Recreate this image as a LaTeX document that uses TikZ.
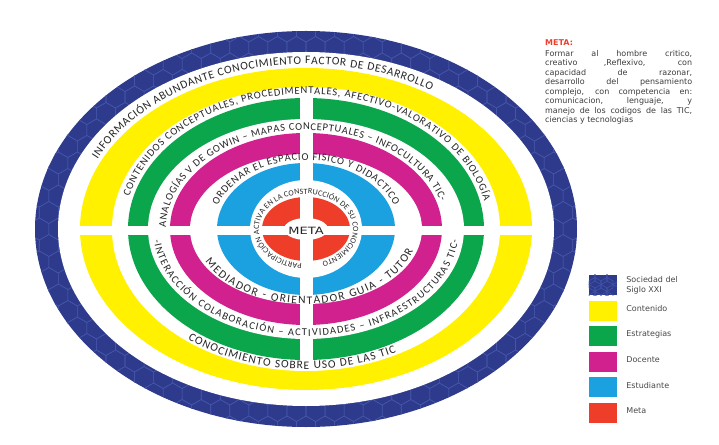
\documentclass[tikz,border=0pt]{standalone}
\usepackage{fontspec}
\setmainfont{DejaVu Sans}
\newfontfamily\ringfam{Carlito}
\usetikzlibrary{positioning}
\usetikzlibrary{decorations.text}

\definecolor{society}{HTML}{2E3A8C}
\definecolor{societyhex}{HTML}{4454A6}
\definecolor{content}{HTML}{FFF100}
\definecolor{strategy}{HTML}{0BA64B}
\definecolor{teacher}{HTML}{D0218E}
\definecolor{student}{HTML}{1BA0E0}
\definecolor{goalred}{HTML}{EE3E2A}
\definecolor{ink}{HTML}{262626}

\newcommand\ringL{\ringfam\fontsize{11.5}{13}\selectfont}
\newcommand\ringM{\ringfam\fontsize{10.5}{12}\selectfont}
\newcommand\ringS{\ringfam\fontsize{11.5}{13}\selectfont}
\newcommand\ringXS{\ringfam\fontsize{8}{9}\selectfont}

\tikzset{
  ringtext/.style={decorate, decoration={text along path, text align={fit to path}, text color=ink, text={#1}}},
  hexline/.style={societyhex, line width=0.6pt},
  keybox/.style={minimum width=28pt, minimum height=20pt, inner sep=0pt},
  keylabel/.style={font=\fontsize{8}{10}\selectfont, text=ink!85, align=left, inner sep=0pt, anchor=west},
}

\begin{document}
\begin{tikzpicture}[x=1pt,y=1pt]
    \useasboundingbox (-306,-215) rectangle (413,229);

    % Sociedad del Siglo XXI
    \fill[society] (0,0) ellipse[x radius=271pt, y radius=198pt];
    \begin{scope}
        \clip (0,0) ellipse[x radius=271pt, y radius=198pt];
        \foreach \j in {-7,...,7}
            \foreach \i in {-15,...,15} {
                \draw[hexline] ({\i*19.05+9.53},{\j*33+5.5}) -- ++(-9.53,5.5) -- ++(-9.53,-5.5) -- ++(0,-11) -- ++(9.53,-5.5) -- ++(9.53,5.5) -- cycle;
                \draw[hexline] ({\i*19.05+19.05},{\j*33+22}) -- ++(-9.53,5.5) -- ++(-9.53,-5.5) -- ++(0,-11) -- ++(9.53,-5.5) -- ++(9.53,5.5) -- cycle;
            }
    \end{scope}
    \fill[white] (0,0) ellipse[x radius=248pt, y radius=177pt];

    % Rings
    \fill[content] (0,0) ellipse[x radius=226pt, y radius=161pt];
    \fill[white] (0,0) ellipse[x radius=194pt, y radius=142pt];
    \fill[strategy] (0,0) ellipse[x radius=178pt, y radius=131pt];
    \fill[white] (0,0) ellipse[x radius=158pt, y radius=110pt];
    \fill[teacher] (0,0) ellipse[x radius=136pt, y radius=96pt];
    \fill[white] (0,0) ellipse[x radius=116pt, y radius=75pt];
    \fill[student] (0,0) ellipse[x radius=89pt, y radius=66pt];
    \fill[white] (0,0) ellipse[x radius=56pt, y radius=49pt];
    \fill[goalred] (0,0) ellipse[x radius=44pt, y radius=32pt];
    \fill[white] (0,0) ellipse[x radius=22pt, y radius=11pt];

    % Cross gaps
    \fill[white] (-6.5,-136) rectangle (6.5,136);
    \fill[white] (-232,-6) rectangle (232,3);

    \node[font=\fontsize{10}{12}\selectfont, text=ink] (goal) at (0,-2) {\scalebox{1.3}[1]{META}};

    % Texts on top
    \path[ringtext={|\ringL|INFORMACIÓN ABUNDANTE  CONOCIMIENTO FACTOR DE DESARROLLO}]
        (155:230pt and 165pt) arc[start angle=155, end angle=57, x radius=230pt, y radius=165pt];
    \path[ringtext={|\ringM|CONTENIDOS CONCEPTUALES, PROCEDIMENTALES, AFECTIVO-VALORATIVO DE BIOLOGÍA}]
        (166:182pt and 135pt) arc[start angle=166, end angle=12, x radius=182pt, y radius=135pt];
    \path[ringtext={|\ringM|ANALOGÍAS V DE GOWIN – MAPAS CONCEPTUALES – INFOCULTURA TIC-}]
        (179:140pt and 99pt) arc[start angle=179, end angle=16, x radius=140pt, y radius=99pt];
    \path[ringtext={|\ringM|ORDENAR EL ESPACIO FISICO Y DIDACTICO}]
        (160:94pt and 69pt) arc[start angle=160, end angle=20, x radius=94pt, y radius=69pt];
    \path[ringtext={|\ringXS|PARTICIPACIÓN ACTIVA EN LA CONSTRUCCIÓN DE SU CONOCIMIENTO}]
        (265:47pt and 35pt) arc[start angle=265, end angle=-70, x radius=47pt, y radius=35pt];

    % Texts on bottom
    \path[ringtext={|\ringL|CONOCIMIENTO SOBRE USO DE LAS TIC}]
        (232:192pt and 140pt) arc[start angle=232, end angle=298, x radius=192pt, y radius=140pt];
    \path[ringtext={|\ringM|-INTERACCIÓN COLABORACIÓN – ACTIVIDADES – INFRAESTRUCTURAS TIC-}]
        (186:153pt and 107pt) arc[start angle=186, end angle=354, x radius=153pt, y radius=107pt];
    \path[ringtext={|\ringS|MEDIADOR - ORIENTADOR GUIA - TUTOR}]
        (206:112pt and 75pt) arc[start angle=206, end angle=343, x radius=112pt, y radius=75pt];

    % Goal statement
    \node[anchor=base west, inner sep=0pt, font=\bfseries\fontsize{8}{10}\selectfont, text=goalred] (goaltitle) at (239,183) {META:};
    \node[anchor=north west, inner sep=0pt, text width=147pt, align=justify, text=ink!90,
          font=\fontsize{8}{9.5}\selectfont] (goaltext) at (239,179)
        {Formar al hombre critico,\linebreak creativo ,Reflexivo, con\linebreak capacidad de razonar,\linebreak
         desarrollo del pensamiento\linebreak complejo, con competencia en:\linebreak comunicacion, lenguaje, y\linebreak
         manejo de los codigos de las TIC,\linebreak ciencias y tecnologias};

    % Legend
    \node[keybox, fill=society] (keysoc) at (297,-56) {};
    \begin{scope}
        \clip (keysoc.south west) rectangle (keysoc.north east);
        \foreach \i in {0,...,2}
            \foreach \j in {0,1} {
                \draw[hexline] ({283+\i*12},{-66+\j*14}) -- ++(-6,3.5) -- ++(-6,-3.5) -- ++(0,-7) -- ++(6,-3.5) -- ++(6,3.5) -- cycle;
                \draw[hexline] ({289+\i*12},{-59+\j*14}) -- ++(-6,3.5) -- ++(-6,-3.5) -- ++(0,-7) -- ++(6,-3.5) -- ++(6,3.5) -- cycle;
            }
    \end{scope}
    \node[keylabel, right=9pt of keysoc] (labsoc) {Sociedad del\\Siglo XXI};
    \foreach \col/\txt [count=\k] in {content/Contenido, strategy/Estrategias, teacher/Docente, student/Estudiante, goalred/Meta} {
        \node[keybox, fill=\col] (key\k) at (297,{-56-25.6*\k}) {};
        \node[keylabel, right=9pt of key\k, yshift=2pt] (lab\k) {\txt};
    }
\end{tikzpicture}
\end{document}
